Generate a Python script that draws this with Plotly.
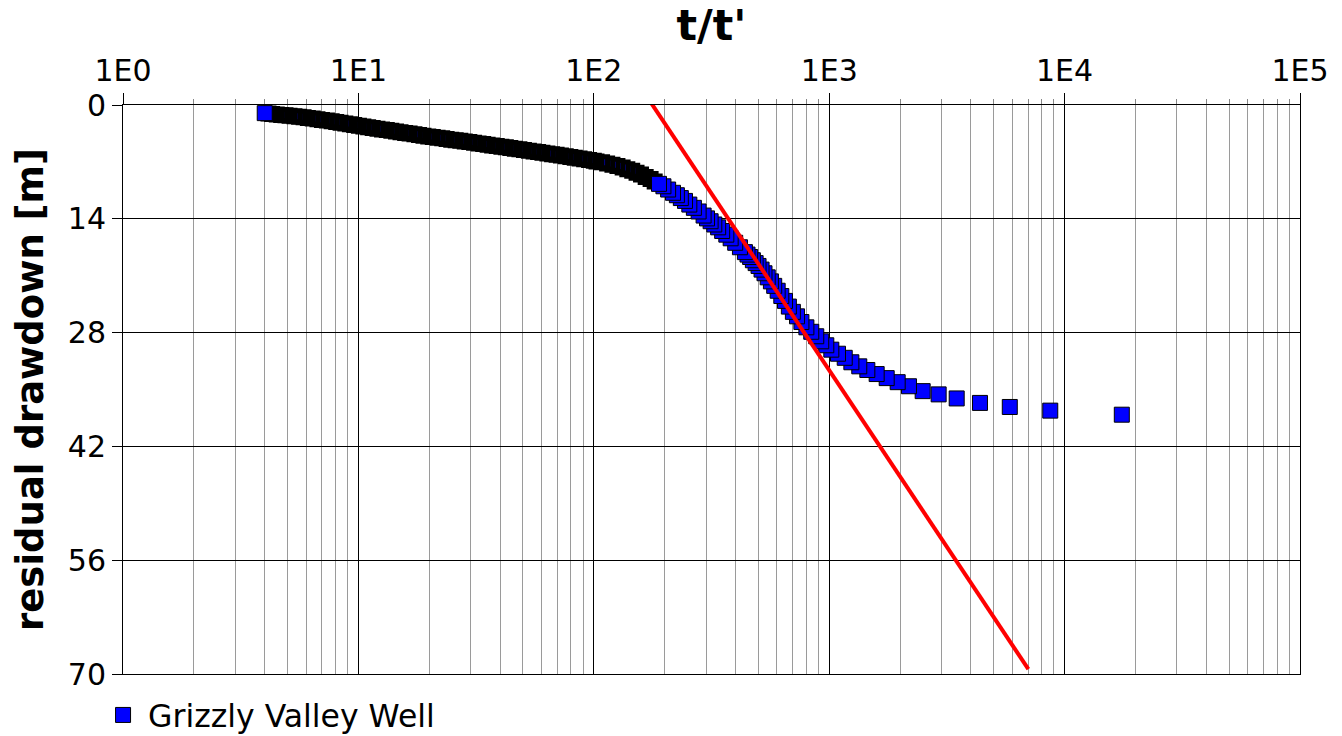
import numpy as np
import plotly.graph_objects as go

# t/t' (time ratio) and residual drawdown [m], in order of recovery time
ratio = [
    17500, 8690, 5850, 4370, 3480, 2917, 2495, 2182, 1954, 1755, 1591, 1452, 1342, 1242, 1164,
    1090, 1021, 972, 925, 881, 839, 800,
    762, 730, 701, 674, 649, 626, 604, 584, 565.5, 548, 531, 516, 501, 487, 474, 461.5, 449.7,
    438.5, 417.7, 398.7, 381.4, 365.6, 351, 337.5, 325, 313.5, 302.7, 292.7, 278.8, 266.2, 254.6,
    244, 234.3, 225.4, 217, 206.9, 197.6, 189.2, 181.4, 174.3, 166.1, 158.7, 151.9, 145.6, 138.8,
    132.6, 126, 120, 113.9, 108.4, 102.7,
    100, 95.5, 91, 87, 83, 79.5, 76, 72.5, 69.5, 66.5, 63.5, 60.5, 58, 55.5, 53, 50.5, 48.3, 46.2,
    44.2, 42.3, 40.5, 38.7, 37, 35.4, 33.9, 32.4, 31, 29.6, 28.3, 27.1, 25.9, 24.8, 23.7, 22.7,
    21.7, 20.7, 19.8, 18.9, 18.1, 17.3, 16.5, 15.8, 15.1, 14.45, 13.8, 13.2, 12.6, 12.05, 11.5,
    11.0, 10.5, 10.05, 9.6, 9.2, 8.8, 8.4, 8.05, 7.7, 7.35, 7.0, 6.7, 6.4, 6.1, 5.85, 5.6, 5.35,
    5.1, 4.9, 4.7, 4.5, 4.3, 4.15, 4.0,
]
drawdown = [
    38.1, 37.6, 37.15, 36.65, 36.1, 35.6, 35.2, 34.6, 34.1, 33.6, 33.1, 32.6, 32.15, 31.65, 31.1,
    30.6, 30.1, 29.56, 29.07, 28.45, 27.9, 27.35,
    26.7, 26.0, 25.45, 24.8, 24.1, 23.5, 22.85, 22.25, 21.7, 21.2, 20.7, 20.25, 19.8, 19.45, 19.1,
    18.7, 18.4, 18.1, 17.5, 16.95, 16.4, 15.95, 15.5, 15.05, 14.7, 14.3, 13.95, 13.6, 13.1, 12.65,
    12.25, 11.8, 11.45, 11.1, 10.8, 10.4, 10.0, 9.7, 9.4, 9.1, 8.85, 8.55, 8.35, 8.1, 7.9,
    7.7, 7.5, 7.35, 7.2, 7.05, 6.95,
    6.87, 6.77, 6.67, 6.58, 6.49, 6.40, 6.31, 6.22, 6.13, 6.05, 5.96, 5.87, 5.79, 5.71, 5.63, 5.53,
    5.45, 5.37, 5.29, 5.21, 5.13, 5.05, 4.97, 4.89, 4.81, 4.73, 4.64, 4.56, 4.49, 4.41, 4.33, 4.26,
    4.18, 4.10, 4.02, 3.94, 3.87, 3.77, 3.70, 3.61, 3.51, 3.44, 3.35, 3.26, 3.18, 3.09, 3.00, 2.92,
    2.83, 2.74, 2.65, 2.56, 2.46, 2.37, 2.27, 2.18, 2.10, 2.01, 1.92, 1.83, 1.75, 1.67, 1.59, 1.52,
    1.44, 1.38, 1.32, 1.27, 1.22, 1.16, 1.10, 1.05, 1.0,
]

# straight-line fit drawn on the plot
fit_ratio = [172, 7015]
fit_drawdown = [-0.6, 69.4]

series_name = "Grizzly Valley Well"
x_tickvals = [1, 10, 100, 1000, 10000, 100000]
x_ticktext = ["1E0", "1E1", "1E2", "1E3", "1E4", "1E5"]
y_tickvals = [0, 14, 28, 42, 56, 70]

x = np.array(ratio, dtype=float)
y = np.array(drawdown, dtype=float)
dense = (x > 4.05) & (x < 185)  # heavily overlapping part of the record

minor_vals = [m * 10 ** e for e in range(5) for m in range(2, 10)]

fig = go.Figure()
fig.add_trace(go.Scatter(
    x=x[dense], y=y[dense], mode="markers", showlegend=False, hoverinfo="skip",
    marker=dict(symbol="square", size=11, color="#0000FF", line=dict(color="black", width=5)),
    cliponaxis=False,
))
fig.add_trace(go.Scatter(
    x=x[~dense], y=y[~dense], mode="markers", name=series_name,
    marker=dict(symbol="square", size=15, color="#0000FF", line=dict(color="black", width=1)),
    cliponaxis=False,
))
fig.add_trace(go.Scatter(
    x=fit_ratio, y=fit_drawdown, mode="lines", showlegend=False,
    line=dict(color="#FF0000", width=4),
))

font_family = "DejaVu Sans"
fig.update_layout(
    width=1342, height=736,
    margin=dict(l=123, r=42, t=105, b=62, pad=0, autoexpand=False),
    paper_bgcolor="white", plot_bgcolor="white",
    font=dict(family=font_family, color="black"),
    showlegend=True,
    legend=dict(x=-0.0212, y=-0.072, xanchor="left", yanchor="middle", itemwidth=40,
                font=dict(size=31.5, family=font_family), bgcolor="rgba(0,0,0,0)",
                borderwidth=0),
    xaxis=dict(
        type="log", range=[0, 5], side="top",
        tickmode="array", tickvals=x_tickvals, ticktext=x_ticktext,
        ticks="outside", ticklen=11, tickwidth=1, tickcolor="black",
        tickfont=dict(size=30, family=font_family),
        showgrid=True, gridcolor="black", gridwidth=1,
        showline=True, linecolor="black", linewidth=1, mirror=True,
        zeroline=False,
        minor=dict(tickmode="array", tickvals=minor_vals, ticks="outside", ticklen=5,
                   tickcolor="#888888", showgrid=True, gridcolor="#9a9a9a", gridwidth=1),
        title=dict(text="<b>t/t'</b>", font=dict(size=43, family=font_family), standoff=3),
    ),
    yaxis=dict(
        range=[70, 0], tickmode="array", tickvals=y_tickvals,
        ticks="outside", ticklen=10, tickwidth=1, tickcolor="black",
        tickfont=dict(size=30, family=font_family),
        showgrid=True, gridcolor="black", gridwidth=1,
        showline=True, linecolor="black", linewidth=1, mirror=True,
        zeroline=False,
        title=dict(text="<b>residual drawdown [m]</b>", font=dict(size=37, family=font_family),
                   standoff=12),
    ),
)

fig.write_html("out.html")
